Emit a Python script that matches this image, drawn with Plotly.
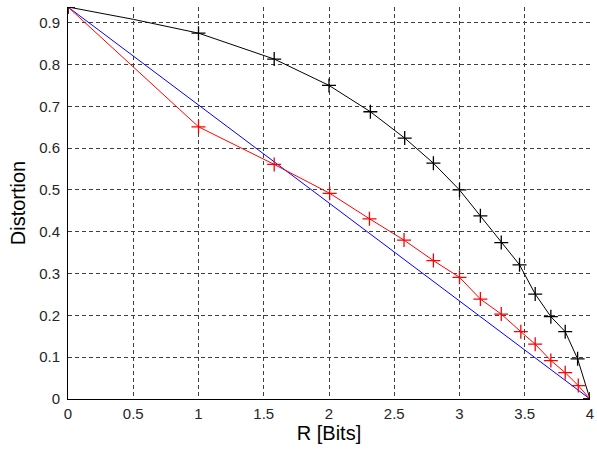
import plotly.graph_objects as go

# Blue: straight reference line
blue_x = [0, 4]
blue_y = [0.9375, 0]

# Black curve (line points) and marker flags
black_x = [0, 0.5, 1, 1.58, 2, 2.317, 2.58, 2.80, 3.0, 3.16, 3.32, 3.46, 3.58, 3.70, 3.81, 3.905, 4]
black_y = [0.9375, 0.908, 0.875, 0.813, 0.75, 0.687, 0.624, 0.564, 0.50, 0.438, 0.374, 0.321, 0.251, 0.197, 0.161, 0.096, 0.0]
black_marked = [True, False] + [True] * 15

# Red curve
red_x = [0, 1, 1.58, 2.005, 2.31, 2.575, 2.80, 3.0, 3.16, 3.32, 3.47, 3.58, 3.70, 3.81, 3.91, 4]
red_y = [0.9375, 0.651, 0.561, 0.492, 0.431, 0.380, 0.331, 0.291, 0.239, 0.203, 0.161, 0.131, 0.092, 0.063, 0.032, 0.0]

x_ticks = [0, 0.5, 1, 1.5, 2, 2.5, 3, 3.5, 4]
x_ticklabels = ["0", "0.5", "1", "1.5", "2", "2.5", "3", "3.5", "4"]
y_ticks = [0, 0.1, 0.2, 0.3, 0.4, 0.5, 0.6, 0.7, 0.8, 0.9]
y_ticklabels = ["0", "0.1", "0.2", "0.3", "0.4", "0.5", "0.6", "0.7", "0.8", "0.9"]

fig = go.Figure()

fig.add_trace(go.Scatter(x=blue_x, y=blue_y, mode="lines",
                         line=dict(color="#0000ff", width=1), showlegend=False))
fig.add_trace(go.Scatter(x=red_x, y=red_y, mode="lines+markers",
                         line=dict(color="#ff0000", width=1),
                         marker=dict(symbol="cross-thin", size=10, color="#ff0000",
                                     line=dict(color="#ff0000", width=1.3)),
                         showlegend=False))
fig.add_trace(go.Scatter(x=black_x, y=black_y, mode="lines",
                         line=dict(color="#000000", width=1), showlegend=False))
mx = [x for x, m in zip(black_x, black_marked) if m]
my = [y for y, m in zip(black_y, black_marked) if m]
fig.add_trace(go.Scatter(x=mx, y=my, mode="markers",
                         marker=dict(symbol="cross-thin", size=10, color="#000000",
                                     line=dict(color="#000000", width=1.3)),
                         showlegend=False))

fam = "Liberation Sans, Arial, sans-serif"
axis_font = dict(family=fam, size=15, color="#262626")
title_font = dict(family=fam, size=20, color="#000000")
fig.update_layout(
    width=597, height=455,
    margin=dict(l=68, r=3, t=7, b=56),
    paper_bgcolor="white", plot_bgcolor="white",
    xaxis=dict(range=[0, 4], tickvals=x_ticks, ticktext=x_ticklabels,
               showgrid=True, gridcolor="#404040", griddash="4px,3px", gridwidth=1,
               zeroline=False, showline=True, linecolor="#000000", linewidth=1,
               ticks="", tickfont=axis_font, ticklabelstandoff=1,
               ticklabeloverflow="allow",
               title=dict(text="R [Bits]", font=title_font, standoff=4)),
    yaxis=dict(range=[0, 0.9375], tickvals=y_ticks, ticktext=y_ticklabels,
               showgrid=True, gridcolor="#404040", griddash="4px,3px", gridwidth=1,
               zeroline=False, showline=True, linecolor="#000000", linewidth=1,
               ticks="", tickfont=axis_font, ticklabelstandoff=4,
               ticklabeloverflow="allow",
               title=dict(text="Distortion", font=title_font, standoff=8)),
)

fig.write_html("out.html")
